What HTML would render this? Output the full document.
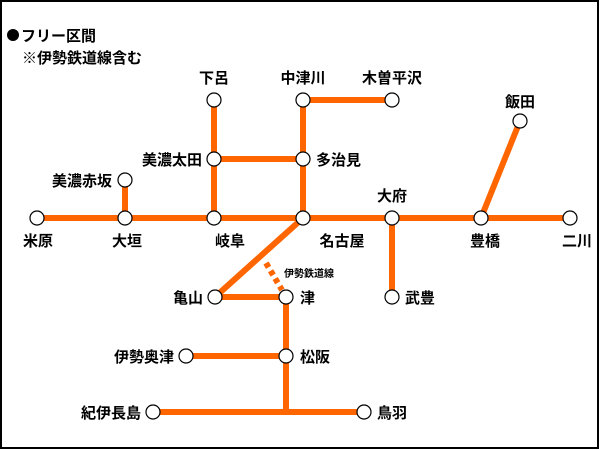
<!DOCTYPE html>
<html><head><meta charset="utf-8"><style>
html,body{margin:0;padding:0;background:#fff}
svg{display:block}
text{font-family:"Liberation Sans","Noto Sans CJK JP",sans-serif;font-weight:bold;font-size:15px;fill:#000}
</style></head><body>
<svg width="600" height="450" viewBox="0 0 600 450">
<rect x="1" y="1" width="597" height="447" fill="#fff" stroke="#000" stroke-width="2"/>
<g stroke="#ff6600" stroke-width="6" fill="none" stroke-linecap="butt">
<line x1="37" y1="218" x2="570" y2="218"/>
<line x1="125" y1="180" x2="125" y2="218"/>
<line x1="214" y1="100" x2="214" y2="218"/>
<line x1="214" y1="159" x2="303" y2="159"/>
<line x1="303" y1="100" x2="303" y2="218"/>
<line x1="303" y1="100" x2="392" y2="100"/>
<line x1="392" y1="218" x2="392" y2="297"/>
<line x1="481" y1="218" x2="520" y2="121"/>
<line x1="303" y1="218" x2="215" y2="297"/>
<line x1="215" y1="297" x2="286" y2="297"/>
<line x1="286" y1="297" x2="286" y2="412"/>
<line x1="186" y1="356" x2="286" y2="356"/>
<line x1="153" y1="412" x2="364" y2="412"/>
<line x1="266" y1="263" x2="282" y2="290" stroke-dasharray="5,4"/>
</g>
<g fill="#fff" stroke="#000" stroke-width="1.2">
<circle cx="37" cy="218" r="7"/><circle cx="125" cy="218" r="7"/><circle cx="125" cy="180" r="7"/>
<circle cx="214" cy="218" r="7"/><circle cx="214" cy="159" r="7"/><circle cx="214" cy="100" r="7"/>
<circle cx="303" cy="159" r="7"/><circle cx="303" cy="100" r="7"/><circle cx="392" cy="100" r="7"/>
<circle cx="303" cy="218" r="7"/><circle cx="392" cy="218" r="7"/><circle cx="392" cy="297" r="7"/>
<circle cx="481" cy="218" r="7"/><circle cx="520" cy="121" r="7"/><circle cx="570" cy="218" r="7"/>
<circle cx="215" cy="297" r="7"/><circle cx="286" cy="297" r="7"/><circle cx="286" cy="356" r="7"/>
<circle cx="186" cy="356" r="7"/><circle cx="153" cy="412" r="7"/><circle cx="364" cy="412" r="7"/>
</g>
<circle cx="13" cy="35" r="6" fill="#000"/>
<text x="21" y="41">フリー区間</text>
<text x="22" y="63">※伊勢鉄道線含む</text>
<text x="214" y="83" text-anchor="middle">下呂</text>
<text x="303" y="83" text-anchor="middle">中津川</text>
<text x="392" y="83" text-anchor="middle">木曽平沢</text>
<text x="520" y="107" text-anchor="middle">飯田</text>
<text x="202" y="165" text-anchor="end">美濃太田</text>
<text x="316" y="165">多治見</text>
<text x="112" y="186" text-anchor="end">美濃赤坂</text>
<text x="392" y="201" text-anchor="middle">大府</text>
<text x="38" y="246" text-anchor="middle">米原</text>
<text x="127" y="246" text-anchor="middle">大垣</text>
<text x="230" y="246" text-anchor="middle">岐阜</text>
<text x="342" y="246" text-anchor="middle">名古屋</text>
<text x="485" y="246" text-anchor="middle">豊橋</text>
<text x="577" y="246" text-anchor="middle">二川</text>
<text x="284" y="277" style="font-size:10px">伊勢鉄道線</text>
<text x="203" y="303" text-anchor="end">亀山</text>
<text x="300" y="303">津</text>
<text x="405" y="303">武豊</text>
<text x="174" y="362" text-anchor="end">伊勢奥津</text>
<text x="300" y="362">松阪</text>
<text x="141" y="418" text-anchor="end">紀伊長島</text>
<text x="377" y="418">鳥羽</text>
</svg>
</body></html>
